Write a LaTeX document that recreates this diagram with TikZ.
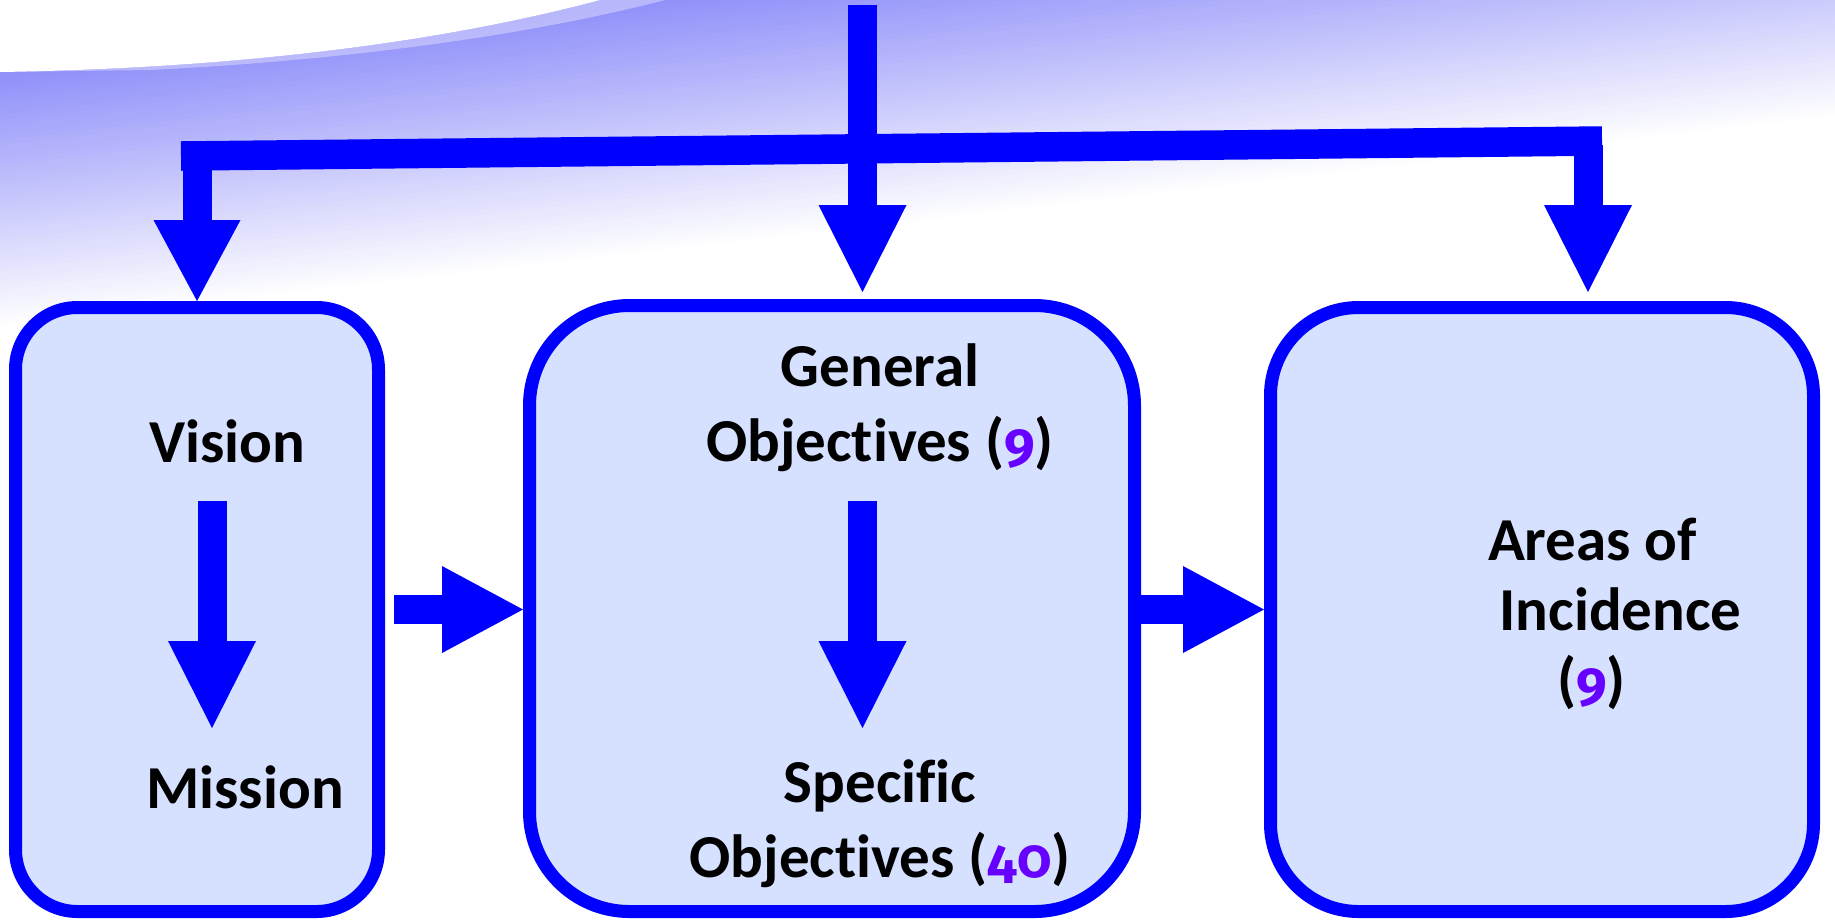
\documentclass[tikz,border=0pt]{standalone}
\usepackage{fontspec}
\setmainfont{Carlito}[Ligatures=NoCommon]
\newfontfamily\numfont{Fira Sans}[Numbers=OldStyle, Scale=0.9]
\usetikzlibrary{arrows.meta, calc}

\definecolor{boxblue}{RGB}{0,0,255}
\definecolor{boxfill}{RGB}{214,224,255}
\definecolor{numpurple}{RGB}{102,0,255}
\definecolor{swoosh}{RGB}{145,145,250}

\newcommand{\cnt}[1]{\textcolor{numpurple}{\numfont #1}}

\tikzset{
  panel/.style={draw=boxblue, fill=boxfill, line width=6.5pt},
  flow/.style={draw=boxblue, line width=14.5pt, -{Triangle[width=44pt, length=43.5pt, line width=0pt]}},
  flowh/.style={draw=boxblue, line width=14.5pt, -{Triangle[width=43.5pt, length=40.5pt, line width=0pt]}},
  lbl/.style={font=\fontsize{30.5}{37.5}\selectfont\bfseries, text=black, inner sep=0pt},
}

\begin{document}
\begin{tikzpicture}[x=0.5pt, y=-0.5pt]
  \useasboundingbox (0,0) rectangle (1835,923);
  \clip (0,0) rectangle (1835,923);

  % Background swoosh
  \foreach \d in {0,5,...,345} {
    \pgfmathsetmacro\p{min(100,\d/2.5)}
    \fill[swoosh!\p!white] (0,330-\d) -- (1835,120-\d) -- (1835,-240) -- (0,-240) -- cycle;
  }
  \fill[white] (0,0) -- (0,72) .. controls (250,68) and (450,40) .. (600,0) -- cycle;
  \fill[white, opacity=0.35] (0,72) .. controls (250,68) and (450,40) .. (600,0)
    -- (665,0) .. controls (530,35) and (350,60) .. (150,70) -- cycle;

  % Panels
  \node[panel, rounded corners=31pt, minimum width=181.5pt, minimum height=302pt] (vbox) at (197,609.5) {};
  \node[panel, rounded corners=50pt, minimum width=302.5pt, minimum height=303pt] (gbox) at (832,608.5) {};
  \node[panel, rounded corners=44pt, minimum width=271.5pt, minimum height=302pt] (abox) at (1542,609.5) {};

  % Distribution from the top
  \coordinate (src) at (862.5,5);
  \coordinate (barL) at (181,156);
  \coordinate (barR) at (1602,141);
  \coordinate (brL) at (197,160);
  \coordinate (brR) at (1588,145);
  \draw[boxblue, line width=14.75pt] (barL) -- (barR);
  \draw[flowh] (brL) -- (vbox.north);
  \draw[flow, shorten >=4.5pt] (brR) -- (brR |- abox.north);
  \draw[flow, shorten >=3.5pt] (src) -- (src |- gbox.north);

  % Labels
  \node[lbl, anchor=base] (vision) at (227,462) {Vision};
  \node[lbl, anchor=base] (mission) at (245,808) {Mission};
  \node[lbl, align=center] (genobj) at (880,408) {General\\Objectives (\cnt{9})};
  \node[lbl, align=center] (specobj) at (880,824) {Specific\\Objectives (\cnt{40})};
  \node[lbl, anchor=base] (areas) at (1592.5,560) {Areas of};
  \node[lbl, anchor=base] (incid) at (1620.5,630) {Incidence};
  \node[lbl, anchor=base] (areasnum) at (1591.5,700) {(\cnt{9})};

  % Inner arrows
  \coordinate (vtop) at (212,501);
  \coordinate (vbot) at (212,728);
  \coordinate (gtop) at (862.5,501);
  \coordinate (gbot) at (862.5,728);
  \draw[flow] (vtop) -- (vbot);
  \draw[flow] (gtop) -- (gbot);

  % Arrows between panels
  \draw[flowh] ([xshift=4.5pt]vbox.east) -- (gbox.west |- vbox.east);
  \draw[flowh] (gbox.east |- vbox.east) -- (abox.west |- vbox.east);

\end{tikzpicture}
\end{document}
